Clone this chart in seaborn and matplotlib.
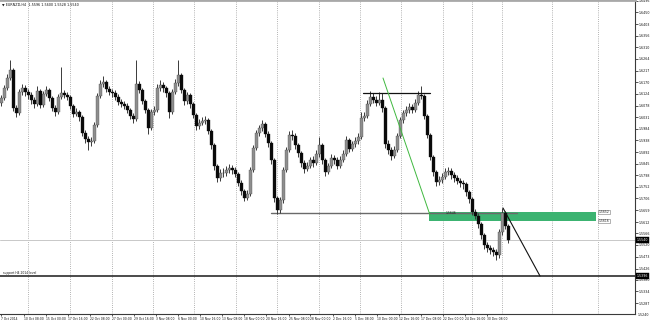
import matplotlib
matplotlib.use("Agg")
import matplotlib.pyplot as plt
import numpy as np
import pandas as pd
import seaborn as sns
from matplotlib.patches import Rectangle
from matplotlib.transforms import blended_transform_factory

# ---------------- data (EURNZD, H4) ----------------
first_open = 1.6088
closes = [1.6108, 1.6148, 1.6188, 1.6220, 1.6068, 1.6048, 1.6132, 1.6148, 1.6132, 1.6120,
          1.6100, 1.6084, 1.6136, 1.6080, 1.6124, 1.6140, 1.6108, 1.6068, 1.6052, 1.6112,
          1.6128, 1.6120, 1.6112, 1.6076, 1.6044, 1.6052, 1.6032, 1.5968, 1.5944, 1.5932,
          1.5936, 1.6000, 1.6116, 1.6164, 1.6172, 1.6144, 1.6132, 1.6128, 1.6112, 1.6092,
          1.6084, 1.6076, 1.6060, 1.6036, 1.6024, 1.6164, 1.6140, 1.6096, 1.6060, 1.5988,
          1.6052, 1.6060, 1.6148, 1.6160, 1.6148, 1.6128, 1.6052, 1.6132, 1.6168, 1.6200,
          1.6140, 1.6096, 1.6120, 1.6084, 1.6040, 1.5996, 1.6008, 1.6016, 1.6020, 1.5976,
          1.5920, 1.5836, 1.5788, 1.5808, 1.5808, 1.5820, 1.5828, 1.5820, 1.5804, 1.5768,
          1.5736, 1.5708, 1.5724, 1.5820, 1.5908, 1.5968, 1.5988, 1.6004, 1.5964, 1.5928,
          1.5860, 1.5708, 1.5660, 1.5700, 1.5820, 1.5900, 1.5960, 1.5956, 1.5920, 1.5888,
          1.5848, 1.5824, 1.5836, 1.5860, 1.5848, 1.5884, 1.5920, 1.5860, 1.5812, 1.5836,
          1.5868, 1.5860, 1.5836, 1.5860, 1.5884, 1.5940, 1.5904, 1.5924, 1.5936, 1.5952,
          1.6028, 1.6036, 1.6084, 1.6112, 1.6100, 1.6088, 1.6100, 1.6068, 1.5924, 1.5900,
          1.5876, 1.5900, 1.5956, 1.6020, 1.6048, 1.6060, 1.6072, 1.6060, 1.6088, 1.6120,
          1.6116, 1.6036, 1.5960, 1.5872, 1.5812, 1.5772, 1.5780, 1.5792, 1.5812, 1.5816,
          1.5800, 1.5788, 1.5776, 1.5768, 1.5764, 1.5732, 1.5704, 1.5652, 1.5636, 1.5604,
          1.5560, 1.5520, 1.5508, 1.5500, 1.5492, 1.5480, 1.5572, 1.5648, 1.5596, 1.5540]
highs = [1.6120, 1.6160, 1.6204, 1.6260, 1.6228, 1.6080, 1.6144, 1.6164, 1.6160, 1.6144,
         1.6132, 1.6112, 1.6156, 1.6144, 1.6136, 1.6156, 1.6148, 1.6116, 1.6080, 1.6124,
         1.6232, 1.6140, 1.6132, 1.6120, 1.6084, 1.6068, 1.6060, 1.6040, 1.5980, 1.5956,
         1.5952, 1.6012, 1.6128, 1.6180, 1.6196, 1.6180, 1.6156, 1.6144, 1.6140, 1.6124,
         1.6104, 1.6096, 1.6088, 1.6068, 1.6048, 1.6260, 1.6176, 1.6148, 1.6104, 1.6068,
         1.6064, 1.6076, 1.6164, 1.6180, 1.6172, 1.6156, 1.6136, 1.6144, 1.6184, 1.6260,
         1.6208, 1.6148, 1.6132, 1.6128, 1.6092, 1.6048, 1.6024, 1.6032, 1.6036, 1.6028,
         1.5984, 1.5928, 1.5844, 1.5824, 1.5828, 1.5836, 1.5844, 1.5840, 1.5832, 1.5812,
         1.5780, 1.5744, 1.5740, 1.5832, 1.5920, 1.5980, 1.6000, 1.6020, 1.6012, 1.5976,
         1.5936, 1.5868, 1.5716, 1.5712, 1.5832, 1.5912, 1.5976, 1.5980, 1.5968, 1.5928,
         1.5896, 1.5860, 1.5852, 1.5872, 1.5876, 1.5900, 1.5952, 1.5928, 1.5868, 1.5848,
         1.5884, 1.5880, 1.5872, 1.5876, 1.5900, 1.5956, 1.5948, 1.5936, 1.5952, 1.5968,
         1.6052, 1.6052, 1.6100, 1.6136, 1.6128, 1.6116, 1.6132, 1.6128, 1.6076, 1.5940,
         1.5912, 1.5916, 1.5968, 1.6032, 1.6060, 1.6076, 1.6088, 1.6084, 1.6104, 1.6136,
         1.6156, 1.6124, 1.6044, 1.5968, 1.5880, 1.5820, 1.5796, 1.5808, 1.5828, 1.5832,
         1.5828, 1.5812, 1.5800, 1.5788, 1.5780, 1.5772, 1.5740, 1.5712, 1.5664, 1.5648,
         1.5612, 1.5568, 1.5532, 1.5520, 1.5512, 1.5504, 1.5584, 1.5668, 1.5656, 1.5604]
lows = [1.6076, 1.6100, 1.6140, 1.6180, 1.6056, 1.6032, 1.6040, 1.6120, 1.6116, 1.6104,
        1.6084, 1.6068, 1.6076, 1.6068, 1.6072, 1.6116, 1.6096, 1.6056, 1.6036, 1.6044,
        1.6104, 1.6108, 1.6100, 1.6064, 1.6032, 1.6036, 1.6016, 1.5956, 1.5928, 1.5900,
        1.5916, 1.5928, 1.5992, 1.6108, 1.6152, 1.6132, 1.6120, 1.6112, 1.6100, 1.6080,
        1.6072, 1.6064, 1.6048, 1.6024, 1.6008, 1.6016, 1.6128, 1.6084, 1.6048, 1.5964,
        1.5980, 1.6040, 1.6052, 1.6136, 1.6132, 1.6112, 1.6028, 1.6044, 1.6124, 1.6156,
        1.6128, 1.6080, 1.6084, 1.6068, 1.6028, 1.5980, 1.5984, 1.6000, 1.6004, 1.5964,
        1.5904, 1.5820, 1.5772, 1.5776, 1.5792, 1.5796, 1.5808, 1.5804, 1.5792, 1.5756,
        1.5720, 1.5696, 1.5700, 1.5716, 1.5812, 1.5900, 1.5956, 1.5976, 1.5952, 1.5912,
        1.5844, 1.5692, 1.5644, 1.5648, 1.5688, 1.5812, 1.5892, 1.5940, 1.5904, 1.5872,
        1.5832, 1.5808, 1.5816, 1.5828, 1.5832, 1.5840, 1.5872, 1.5844, 1.5796, 1.5804,
        1.5828, 1.5844, 1.5824, 1.5828, 1.5852, 1.5876, 1.5892, 1.5896, 1.5912, 1.5924,
        1.5944, 1.6016, 1.6028, 1.6076, 1.6088, 1.6076, 1.6080, 1.6052, 1.5908, 1.5884,
        1.5860, 1.5868, 1.5892, 1.5948, 1.6008, 1.6036, 1.6048, 1.6048, 1.6052, 1.6080,
        1.6104, 1.6024, 1.5948, 1.5860, 1.5796, 1.5756, 1.5760, 1.5768, 1.5784, 1.5800,
        1.5784, 1.5772, 1.5764, 1.5752, 1.5744, 1.5716, 1.5688, 1.5640, 1.5624, 1.5588,
        1.5544, 1.5504, 1.5492, 1.5484, 1.5476, 1.5460, 1.5468, 1.5560, 1.5584, 1.5528]

date_labels = ["7 Oct 2014", "10 Oct 08:00", "15 Oct 00:00", "17 Oct 16:00", "22 Oct 08:00",
               "27 Oct 00:00", "29 Oct 16:00", "3 Nov 08:00", "6 Nov 00:00", "10 Nov 16:00",
               "13 Nov 08:00", "18 Nov 00:00", "20 Nov 16:00", "25 Nov 08:00", "28 Nov 00:00",
               "2 Dec 16:00", "5 Dec 08:00", "10 Dec 00:00", "12 Dec 16:00", "17 Dec 08:00",
               "22 Dec 00:00", "24 Dec 16:00", "30 Dec 08:00"]
date_pos = [0, 7.4, 14.7, 22.1, 29.4, 36.8, 44.2, 51.5, 58.9, 66.2, 73.6, 81.0, 88.3,
            95.7, 103.0, 110.4, 117.8, 125.1, 132.5, 139.8, 147.2, 154.6, 161.9]
week_sep = [8.83, 22.83, 36.67, 50.5, 64.17, 78.17, 91.83, 105.67, 119.5, 133.17,
            147.17, 156.83, 166.83, 183.5, 198.83]
price_ticks = [1.6496, 1.6450, 1.6403, 1.6356, 1.6310, 1.6264, 1.6217, 1.6170, 1.6124,
               1.6078, 1.6031, 1.5984, 1.5938, 1.5892, 1.5845, 1.5798, 1.5752, 1.5706,
               1.5659, 1.5612, 1.5566, 1.5520, 1.5473, 1.5426, 1.5380, 1.5334, 1.5287, 1.5240]

# drawn objects
support_level = 1.5396
zone_x = [142.5, 198.17]
zone_y = [1.5616, 1.5652]
zone_line_x = [89.83, 171.83]
zone_line_y = 1.5646
resist_x = [120.5, 142.8]
resist_y = 1.6128
green_trend_x = [127.17, 142.83]
green_trend_y = [1.6188, 1.5640]
black_trend_x = [167.17, 179.5]
black_trend_y = [1.5668, 1.5396]
header = "\u25BC EURNZD,H4  1.5596 1.5600 1.5528 1.5540"
support_text = "support H4 2014 level"

# ---------------- build ----------------
sns.set_theme(style="white")
plt.rcParams['font.family'] = ['DejaVu Sans']

df = pd.DataFrame({"close": closes, "high": highs, "low": lows})
df["open"] = [first_open] + closes[:-1]
df["bar"] = np.arange(len(df))
df["bull"] = df["close"] >= df["open"]
df["body_lo"] = df[["open", "close"]].min(axis=1)
df["body_h"] = (df["close"] - df["open"]).abs()

fig = plt.figure(figsize=(6.5, 3.22), dpi=100)
fig.patch.set_facecolor("white")
ax = fig.add_axes([0, 8 / 322, 635 / 650, 314 / 322])
ax.set_facecolor("white")

ax.set_xlim(-0.5, 211.17)
ax.set_ylim(1.5244, 1.6500)

for x in week_sep:
    ax.axvline(x, color="#9a9a9a", lw=0.6, ls=(0, (1, 1.6)), zorder=1)

# bid line and support line
ax.axhline(df["close"].iloc[-1], color="#c8c8c8", lw=0.7, zorder=1)
ax.axhline(support_level, color="#1a1a1a", lw=1.1, zorder=2)

# zone
ax.add_patch(Rectangle((zone_x[0], zone_y[0]), zone_x[1] - zone_x[0], zone_y[1] - zone_y[0],
                       facecolor="#3cb371", edgecolor="none", zorder=2))
ax.plot(zone_line_x, [zone_line_y, zone_line_y], color="#6a6a6a", lw=1.0, zorder=3)

# candles
ax.vlines(df["bar"], df["low"], df["high"], color="#3a3a3a", lw=0.7, zorder=4)
bull = df[df["bull"]]
bear = df[~df["bull"]]
ax.bar(bull["bar"], bull["body_h"], bottom=bull["body_lo"], width=0.9,
       color="#8e8e8e", edgecolor="#4a4a4a", linewidth=0.25, zorder=5)
ax.bar(bear["bar"], bear["body_h"], bottom=bear["body_lo"], width=0.9,
       color="#0a0a0a", edgecolor="#0a0a0a", linewidth=0.25, zorder=5)

# drawn lines
ax.plot(resist_x, [resist_y, resist_y], color="#111111", lw=0.9, zorder=6)
ax.plot(green_trend_x, green_trend_y, color="#3fb83f", lw=0.7, zorder=6)
ax.plot(black_trend_x, black_trend_y, color="#111111", lw=0.8, zorder=6)

# labels on zone
ax.text(148.0, zone_line_y, f"{zone_line_y:.4f}", fontsize=2.2, color="#1a1a1a",
        va="center", ha="left", zorder=7)
for yv in zone_y[::-1]:
    ax.text(199.0, yv, f"{yv:.4f}", fontsize=2.2, color="#222222", va="center", ha="left",
            bbox=dict(boxstyle="square,pad=0.15", fc="white", ec="#777777", lw=0.4), zorder=7)

# texts
ax.text(2 / 635, 1 - 5 / 314, header, transform=ax.transAxes, fontsize=2.4,
        color="#111111", va="center", ha="left")
ax.text(0.5, support_level + 0.0012, support_text, fontsize=2.2, color="#111111",
        va="center", ha="left")

# spines
ax.spines["left"].set_visible(False)
ax.spines["right"].set_color("#3a3a3a")
ax.spines["right"].set_linewidth(0.8)
ax.spines["bottom"].set_color("#3a3a3a")
ax.spines["bottom"].set_linewidth(0.8)
ax.spines["top"].set_color("#a8a8a8")
ax.spines["top"].set_linewidth(2.0)

ax.yaxis.tick_right()
in_ticks = [t for t in price_ticks if t >= 1.5244]
ax.set_yticks(in_ticks)
ax.set_yticklabels([f"{t:.4f}" for t in in_ticks])
ax.tick_params(axis="y", length=2, width=0.5, pad=1, labelsize=2.3, colors="#111111",
               right=True, left=False)
tr = blended_transform_factory(ax.transAxes, ax.transData)
for t in price_ticks:
    if t < 1.5244:
        ax.text(1.0 + 3 / 635, t, f"{t:.4f}", transform=tr, fontsize=2.3, color="#111111",
                va="center", ha="left", clip_on=False)

ax.set_xticks(date_pos)
ax.set_xticklabels(date_labels, ha="left")
ax.tick_params(axis="x", length=1.5, width=0.5, pad=0.8, labelsize=2.2, colors="#111111",
               bottom=True)

# highlighted price boxes on axis
for yv in [df["close"].iloc[-1], support_level]:
    ax.text(1.0 + 2 / 635, yv, f"{yv:.4f}", transform=tr, fontsize=2.3, color="white",
            va="center", ha="left", clip_on=False,
            bbox=dict(boxstyle="square,pad=0.2", fc="black", ec="black", lw=0.3), zorder=8)

ax.grid(False)
fig.savefig("out.png", dpi=100, facecolor="white")
